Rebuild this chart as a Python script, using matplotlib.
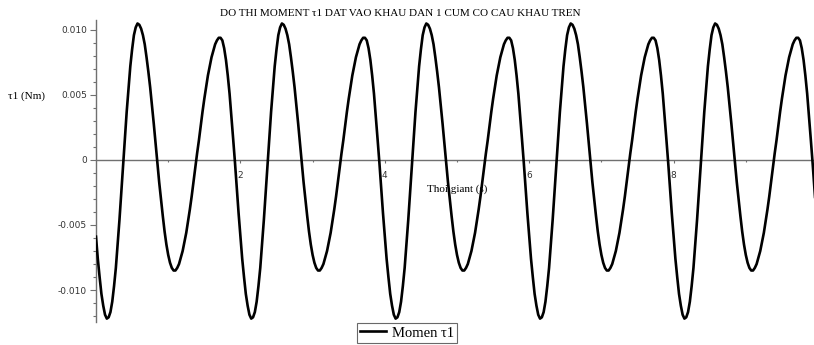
import numpy as np
import matplotlib.pyplot as plt
from matplotlib.ticker import MultipleLocator, FixedLocator

# gia tri doc tu do thi trong 1 chu ky (2 s), buoc 0.025 s
tau1_chuky = [
    -0.0059, -0.0076, -0.0090, -0.0103, -0.0112, -0.0119, -0.0122, -0.0121, -0.0117, -0.0109,
    -0.0097, -0.0083, -0.0065, -0.0046, -0.0025, -0.0004, 0.0017, 0.0037, 0.0055, 0.0072,
    0.0085, 0.0096, 0.0102, 0.0105, 0.0104, 0.0101, 0.0096, 0.0089, 0.0079, 0.0068,
    0.0056, 0.0042, 0.0028, 0.0013, -0.0002, -0.0017, -0.0030, -0.0043, -0.0055, -0.0065,
    -0.0073, -0.0079, -0.0083, -0.0085, -0.0085, -0.0083, -0.0080, -0.0075, -0.0070, -0.0063,
    -0.0056, -0.0047, -0.0038, -0.0028, -0.0017, -0.0006, 0.0005, 0.0015, 0.0026, 0.0037,
    0.0047, 0.0056, 0.0065, 0.0072, 0.0079, 0.0084, 0.0089, 0.0092, 0.0094, 0.0094,
    0.0092, 0.0086, 0.0077, 0.0065, 0.0051, 0.0034, 0.0016, -0.0002, -0.0022, -0.0041,
]
# do thi lap lai 5 chu ky tu 0 den 10 s
tau1 = tau1_chuky * 5 + [tau1_chuky[0]]
t = np.linspace(0, 10, len(tau1))

xticks = [2, 4, 6, 8]
yticks = [-0.010, -0.005, 0, 0.005, 0.010]
ylabels = ["-0.010", "-0.005", "0", "0.005", "0.010"]

serif = ['Liberation Serif', 'DejaVu Serif']
axc = '#707070'

fig = plt.figure(figsize=(8.14, 3.45), dpi=100)
ax = fig.add_axes([96/814, 1-322/345, 1-96/814, 302/345])

ax.plot(t, tau1, color='black', linewidth=1.9, label='Momen τ1', solid_joinstyle='round')
ax.set_xlim(0, 718/72.2)
ax.set_ylim(-162/13000, 140/13000)

ax.spines['top'].set_visible(False)
ax.spines['right'].set_visible(False)
ax.spines['bottom'].set_position(('data', 0))
for s in ['left', 'bottom']:
    ax.spines[s].set_color(axc)
    ax.spines[s].set_linewidth(1.0)
    ax.spines[s].set_zorder(1)

ax.set_yticks(yticks)
ax.set_yticklabels(ylabels)
ax.yaxis.set_minor_locator(MultipleLocator(0.001))
ax.set_xticks(xticks)
ax.xaxis.set_minor_locator(FixedLocator([1, 3, 5, 7, 9]))
ax.tick_params(axis='y', which='major', length=4.3, width=0.8, color=axc, labelsize=6.5,
               labelcolor='#333333', pad=2.2)
ax.tick_params(axis='y', which='minor', length=2.2, width=0.8, color=axc)
ax.tick_params(axis='x', which='major', length=2.2, width=0.8, color=axc, labelsize=6.5,
               labelcolor='#333333', pad=6)
ax.tick_params(axis='x', which='minor', length=1.5, width=0.8, color=axc)

fig.text(400/814, 1-13/345, 'DO THI MOMENT τ1 DAT VAO KHAU DAN 1 CUM CO CAU KHAU TREN',
         ha='center', va='center', fontsize=8, family=serif)
fig.text(27/814, 1-96/345, 'τ1 (Nm)', ha='center', va='center', fontsize=8, family=serif)
fig.text(457/814, 1-189/345, 'Thoi giant (s)', ha='center', va='center', fontsize=8, family=serif)

leg = fig.legend(loc='center', bbox_to_anchor=(407/814, 1-333/345), frameon=True,
                 fancybox=False, prop={'family': serif, 'size': 10.5}, handlelength=1.8,
                 borderpad=0.2, handletextpad=0.45, borderaxespad=0)
leg.get_frame().set_edgecolor('#444444')
leg.get_frame().set_linewidth(0.8)

fig.savefig('out.png', dpi=100)
